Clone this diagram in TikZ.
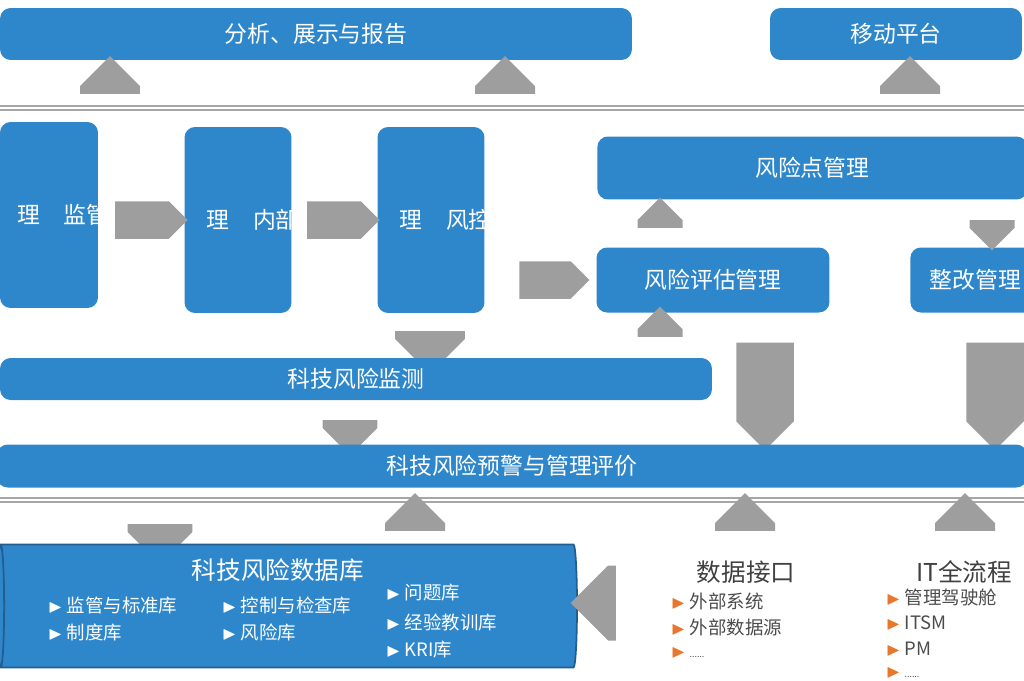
\documentclass[tikz,border=0pt]{standalone}
\usepackage{amssymb}
\usepackage{fontspec}
\setmainfont{Noto Sans CJK SC}
\usetikzlibrary{shapes.arrows, shapes.geometric, positioning}
\definecolor{boxblue}{HTML}{2F87CB}
\definecolor{arrgray}{HTML}{9E9E9E}
\definecolor{tipor}{HTML}{E8772E}
\tikzset{
  box/.style={rectangle, rounded corners=6pt, fill=boxblue, text=white, font=\fontsize{13}{15}\selectfont},
  blk/.style={single arrow, fill=arrgray, draw=none, minimum width=15mm, single arrow head extend=0pt, inner sep=2pt},
  item/.style={anchor=west, font=\fontsize{10.5}{12}\selectfont},
  sep/.style={draw=gray!70, line width=1.2pt, double=white, double distance=0.6pt}
}
\begin{document}
\begin{tikzpicture}[x=0.02cm, y=-0.02cm]
    \useasboundingbox (0,0) rectangle (1024,680);

    % Upper layer
    \node[box, minimum width=12.64cm, minimum height=1.04cm] (report) at (316,34) {分析、展示与报告};
    \node[box, minimum width=5.04cm, minimum height=1.04cm] (mobile) at (896,34) {移动平台};
    \draw[sep] (0,108) -- (1024,108);
    \draw[sep] (0,500) -- (1024,500);
    \foreach \x in {110,505,910}
      \node[blk, rotate=90, minimum height=0.7cm, minimum width=1.2cm] at (\x,90) {};

    % Vertical boxes
    \node[box, minimum width=1.96cm, minimum height=3.72cm] (law) at (49,215) {};
    \node[box, minimum width=2.14cm, minimum height=3.72cm] (rule) at (238,220) {};
    \node[box, minimum width=2.14cm, minimum height=3.72cm] (matrix) at (431,220) {};
    \foreach \n/\t in {law/监管法规管, rule/内部制度管, matrix/风控矩阵管} {
      \node[text=white, font=\fontsize{13}{15.5}\selectfont, align=center, text width=6mm] at ([xshift=6mm]\n.center) {\t};
      \node[text=white, font=\fontsize{13}{15}\selectfont] at ([xshift=-4mm]\n.center) {理};
    }
    \node[blk, minimum height=1.45cm, minimum width=0.75cm] at (142,220) {};
    \node[blk, minimum height=1.45cm, minimum width=0.75cm] at (334,220) {};
    \node[blk, minimum height=1.4cm, minimum width=0.75cm] at (545,280) {};

    % Right part
    \node[box, minimum width=8.6cm, minimum height=1.26cm, anchor=west] (point) at (597,168) {风险点管理};
    \node[box, minimum width=4.66cm, minimum height=1.3cm] (assess) at (713,280) {风险评估管理};
    \node[box, minimum width=2.6cm, minimum height=1.3cm, anchor=west] (fix) at (910,280) {整改管理};
    \node[blk, rotate=90, minimum height=0.56cm, minimum width=0.9cm] at (660,224) {};
    \node[blk, rotate=90, minimum height=0.56cm, minimum width=0.9cm] at (660,333) {};
    \node[blk, rotate=-90, minimum height=0.56cm, minimum width=0.9cm] at (992,224) {};
    \node[blk, rotate=-90, minimum height=2.15cm, minimum width=1.15cm] at (765,382) {};
    \node[blk, rotate=-90, minimum height=2.15cm, minimum width=1.15cm] at (995,382) {};
    \node[blk, rotate=-90, minimum height=0.62cm, minimum width=1.4cm] at (430,335) {};

    % Monitoring bands
    \node[box, minimum width=14.24cm, minimum height=0.84cm] (monitor) at (356,379) {科技风险监测};
    \node[blk, rotate=-90, minimum height=0.56cm, minimum width=1.1cm] at (350,424) {};
    \node[box, minimum width=20.6cm, minimum height=0.86cm] (warn) at (512,466) {科技风险预警与管理评价};

    % Lower layer
    \node[blk, rotate=-90, minimum height=0.66cm, minimum width=1.3cm] at (160,528) {};
    \foreach \x in {415,745,965}
      \node[blk, rotate=90, minimum height=0.7cm, minimum width=1.2cm] at (\x,527) {};

    % Database cylinder
    \node[cylinder, shape border rotate=180, aspect=0.6, draw=boxblue!70!black, line width=1pt,
          fill=boxblue, cylinder end fill=boxblue!40, cylinder uses custom fill, cylinder body fill=boxblue,
          minimum width=2.46cm, minimum height=11.6cm] (db) at (290,606) {};
    \node[text=white, font=\fontsize{14}{16}\selectfont] (dbtitle) at (278,570) {科技风险数据库};
    \begin{scope}[every node/.style={item, text=white}]
      \node (d1) at (42,605) {$\blacktriangleright$\ 监管与标准库};
      \node (d2) at (42,632) {$\blacktriangleright$\ 制度库};
      \node (d3) at (216,605) {$\blacktriangleright$\ 控制与检查库};
      \node (d4) at (216,632) {$\blacktriangleright$\ 风险库};
      \node (d5) at (380,593) {$\blacktriangleright$\ 问题库};
      \node (d6) at (380,622) {$\blacktriangleright$\ 经验教训库};
      \node (d7) at (380,650) {$\blacktriangleright$\ KRI库};
    \end{scope}
    \node[blk, rotate=180, minimum height=0.76cm, minimum width=1.5cm] at (612,603) {};

    % Interfaces
    \node[font=\fontsize{14}{16}\selectfont, text=black!75] (iface) at (746,572) {数据接口};
    \node[font=\fontsize{14}{16}\selectfont, text=black!75] (itflow) at (964,572) {IT全流程};
    \begin{scope}[every node/.style={item, text=black!70}]
      \node (e1) at (665,601) {\textcolor{tipor}{$\blacktriangleright$}\ 外部系统};
      \node (e2) at (665,627) {\textcolor{tipor}{$\blacktriangleright$}\ 外部数据源};
      \node (e3) at (665,653) {\textcolor{tipor}{$\blacktriangleright$}\ \tiny ......};
      \node (f1) at (880,597) {\textcolor{tipor}{$\blacktriangleright$}\ 管理驾驶舱};
      \node (f2) at (880,623) {\textcolor{tipor}{$\blacktriangleright$}\ ITSM};
      \node (f3) at (880,649) {\textcolor{tipor}{$\blacktriangleright$}\ PM};
      \node (f4) at (880,673) {\textcolor{tipor}{$\blacktriangleright$}\ \tiny ......};
    \end{scope}
\end{tikzpicture}
\end{document}
